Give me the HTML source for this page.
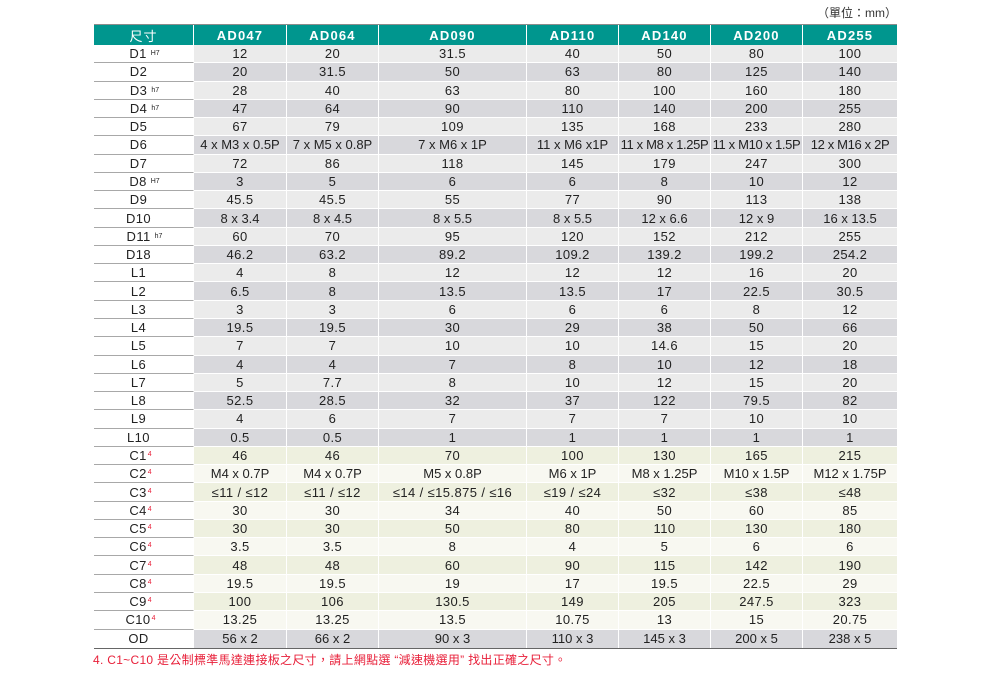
<!DOCTYPE html>
<html>
<head>
<meta charset="utf-8">
<style>
html,body{margin:0;padding:0;background:#fff;}
body{width:991px;height:678px;position:relative;overflow:hidden;font-family:"Liberation Sans","Noto Sans CJK TC",sans-serif;}
.unit{position:absolute;right:94px;top:5px;font-size:12px;color:#333;line-height:16px;font-family:"Liberation Sans","Noto Sans CJK TC",sans-serif;}
.wrap{position:absolute;left:94px;top:24px;width:803px;border-top:1px solid #8c8c8c;border-bottom:1px solid #666;}
.g{display:grid;grid-template-columns:100px 93px 92px 148px 92px 92px 92px 94px;grid-template-rows:20px repeat(33,18.2727px);}
.g>div{box-sizing:border-box;display:flex;align-items:center;justify-content:center;white-space:nowrap;font-size:13px;color:#222;letter-spacing:0.4px;border-right:1px solid #fff;border-bottom:1px solid #fff;}
.g>div:nth-child(8n){border-right:none;}
.h{background:#00968e;color:#fff !important;font-weight:bold;letter-spacing:1.2px !important;border-bottom:none !important;}
.h0{font-weight:normal !important;font-family:"Liberation Sans","Noto Sans CJK TC",sans-serif;letter-spacing:1px !important;}
.f{background:#fff;border-bottom:1px solid #a8a8a8 !important;padding-right:10px;}
.a{background:#ebebeb;}
.b{background:#d8d8dc;}
.ca{background:#eef0df;}
.cb{background:#f8f8f1;}
.g>div.t{letter-spacing:0;}
.g>div.tt{letter-spacing:-0.35px;}
sub.s{font-size:7px;vertical-align:baseline;margin-left:4px;margin-right:-12px;letter-spacing:0;position:relative;top:0px;}
sup.r{font-size:7px;color:#e8203a;vertical-align:top;position:relative;top:-1px;margin-left:1px;margin-right:-4px;letter-spacing:0;}
.foot{position:absolute;left:93px;top:652px;font-size:12px;color:#e8203a;line-height:16px;letter-spacing:0.3px;font-family:"Liberation Sans","Noto Sans CJK TC",sans-serif;white-space:nowrap;}
</style>
</head>
<body>
<div class="unit">（單位：mm）</div>
<div class="wrap">
<div class="g">
<div class="h h0">尺寸</div><div class="h">AD047</div><div class="h">AD064</div><div class="h">AD090</div><div class="h">AD110</div><div class="h">AD140</div><div class="h">AD200</div><div class="h">AD255</div>

<div class="f">D1<sub class="s">H7</sub></div><div class="a">12</div><div class="a">20</div><div class="a">31.5</div><div class="a">40</div><div class="a">50</div><div class="a">80</div><div class="a">100</div>
<div class="f">D2</div><div class="b">20</div><div class="b">31.5</div><div class="b">50</div><div class="b">63</div><div class="b">80</div><div class="b">125</div><div class="b">140</div>
<div class="f">D3<sub class="s">h7</sub></div><div class="a">28</div><div class="a">40</div><div class="a">63</div><div class="a">80</div><div class="a">100</div><div class="a">160</div><div class="a">180</div>
<div class="f">D4<sub class="s">h7</sub></div><div class="b">47</div><div class="b">64</div><div class="b">90</div><div class="b">110</div><div class="b">140</div><div class="b">200</div><div class="b">255</div>
<div class="f">D5</div><div class="a">67</div><div class="a">79</div><div class="a">109</div><div class="a">135</div><div class="a">168</div><div class="a">233</div><div class="a">280</div>
<div class="f">D6</div><div class="b t">4 x M3 x 0.5P</div><div class="b t">7 x M5 x 0.8P</div><div class="b t">7 x M6 x 1P</div><div class="b t">11 x M6 x1P</div><div class="b tt">11 x M8 x 1.25P</div><div class="b tt">11 x M10 x 1.5P</div><div class="b tt">12 x M16 x 2P</div>
<div class="f">D7</div><div class="a">72</div><div class="a">86</div><div class="a">118</div><div class="a">145</div><div class="a">179</div><div class="a">247</div><div class="a">300</div>
<div class="f">D8<sub class="s">H7</sub></div><div class="b">3</div><div class="b">5</div><div class="b">6</div><div class="b">6</div><div class="b">8</div><div class="b">10</div><div class="b">12</div>
<div class="f">D9</div><div class="a">45.5</div><div class="a">45.5</div><div class="a">55</div><div class="a">77</div><div class="a">90</div><div class="a">113</div><div class="a">138</div>
<div class="f">D10</div><div class="b t">8 x 3.4</div><div class="b t">8 x 4.5</div><div class="b t">8 x 5.5</div><div class="b t">8 x 5.5</div><div class="b t">12 x 6.6</div><div class="b t">12 x 9</div><div class="b t">16 x 13.5</div>
<div class="f">D11<sub class="s">h7</sub></div><div class="a">60</div><div class="a">70</div><div class="a">95</div><div class="a">120</div><div class="a">152</div><div class="a">212</div><div class="a">255</div>
<div class="f">D18</div><div class="b">46.2</div><div class="b">63.2</div><div class="b">89.2</div><div class="b">109.2</div><div class="b">139.2</div><div class="b">199.2</div><div class="b">254.2</div>
<div class="f">L1</div><div class="a">4</div><div class="a">8</div><div class="a">12</div><div class="a">12</div><div class="a">12</div><div class="a">16</div><div class="a">20</div>
<div class="f">L2</div><div class="b">6.5</div><div class="b">8</div><div class="b">13.5</div><div class="b">13.5</div><div class="b">17</div><div class="b">22.5</div><div class="b">30.5</div>
<div class="f">L3</div><div class="a">3</div><div class="a">3</div><div class="a">6</div><div class="a">6</div><div class="a">6</div><div class="a">8</div><div class="a">12</div>
<div class="f">L4</div><div class="b">19.5</div><div class="b">19.5</div><div class="b">30</div><div class="b">29</div><div class="b">38</div><div class="b">50</div><div class="b">66</div>
<div class="f">L5</div><div class="a">7</div><div class="a">7</div><div class="a">10</div><div class="a">10</div><div class="a">14.6</div><div class="a">15</div><div class="a">20</div>
<div class="f">L6</div><div class="b">4</div><div class="b">4</div><div class="b">7</div><div class="b">8</div><div class="b">10</div><div class="b">12</div><div class="b">18</div>
<div class="f">L7</div><div class="a">5</div><div class="a">7.7</div><div class="a">8</div><div class="a">10</div><div class="a">12</div><div class="a">15</div><div class="a">20</div>
<div class="f">L8</div><div class="b">52.5</div><div class="b">28.5</div><div class="b">32</div><div class="b">37</div><div class="b">122</div><div class="b">79.5</div><div class="b">82</div>
<div class="f">L9</div><div class="a">4</div><div class="a">6</div><div class="a">7</div><div class="a">7</div><div class="a">7</div><div class="a">10</div><div class="a">10</div>
<div class="f">L10</div><div class="b">0.5</div><div class="b">0.5</div><div class="b">1</div><div class="b">1</div><div class="b">1</div><div class="b">1</div><div class="b">1</div>
<div class="f">C1<sup class="r">4</sup></div><div class="ca">46</div><div class="ca">46</div><div class="ca">70</div><div class="ca">100</div><div class="ca">130</div><div class="ca">165</div><div class="ca">215</div>
<div class="f">C2<sup class="r">4</sup></div><div class="cb t">M4 x 0.7P</div><div class="cb t">M4 x 0.7P</div><div class="cb t">M5 x 0.8P</div><div class="cb t">M6 x 1P</div><div class="cb t">M8 x 1.25P</div><div class="cb t">M10 x 1.5P</div><div class="cb t">M12 x 1.75P</div>
<div class="f">C3<sup class="r">4</sup></div><div class="ca">≤11 / ≤12</div><div class="ca">≤11 / ≤12</div><div class="ca">≤14 / ≤15.875 / ≤16</div><div class="ca">≤19 / ≤24</div><div class="ca">≤32</div><div class="ca">≤38</div><div class="ca">≤48</div>
<div class="f">C4<sup class="r">4</sup></div><div class="cb">30</div><div class="cb">30</div><div class="cb">34</div><div class="cb">40</div><div class="cb">50</div><div class="cb">60</div><div class="cb">85</div>
<div class="f">C5<sup class="r">4</sup></div><div class="ca">30</div><div class="ca">30</div><div class="ca">50</div><div class="ca">80</div><div class="ca">110</div><div class="ca">130</div><div class="ca">180</div>
<div class="f">C6<sup class="r">4</sup></div><div class="cb">3.5</div><div class="cb">3.5</div><div class="cb">8</div><div class="cb">4</div><div class="cb">5</div><div class="cb">6</div><div class="cb">6</div>
<div class="f">C7<sup class="r">4</sup></div><div class="ca">48</div><div class="ca">48</div><div class="ca">60</div><div class="ca">90</div><div class="ca">115</div><div class="ca">142</div><div class="ca">190</div>
<div class="f">C8<sup class="r">4</sup></div><div class="cb">19.5</div><div class="cb">19.5</div><div class="cb">19</div><div class="cb">17</div><div class="cb">19.5</div><div class="cb">22.5</div><div class="cb">29</div>
<div class="f">C9<sup class="r">4</sup></div><div class="ca">100</div><div class="ca">106</div><div class="ca">130.5</div><div class="ca">149</div><div class="ca">205</div><div class="ca">247.5</div><div class="ca">323</div>
<div class="f">C10<sup class="r">4</sup></div><div class="cb">13.25</div><div class="cb">13.25</div><div class="cb">13.5</div><div class="cb">10.75</div><div class="cb">13</div><div class="cb">15</div><div class="cb">20.75</div>
<div class="f" style="border-bottom:none !important">OD</div><div class="b t" style="border-bottom:none">56 x 2</div><div class="b t" style="border-bottom:none">66 x 2</div><div class="b t" style="border-bottom:none">90 x 3</div><div class="b t" style="border-bottom:none">110 x 3</div><div class="b t" style="border-bottom:none">145 x 3</div><div class="b t" style="border-bottom:none">200 x 5</div><div class="b t" style="border-bottom:none">238 x 5</div>
</div>
</div>
<div class="foot">4. C1~C10 是公制標準馬達連接板之尺寸，請上網點選 “減速機選用” 找出正確之尺寸。</div>
</body>
</html>
